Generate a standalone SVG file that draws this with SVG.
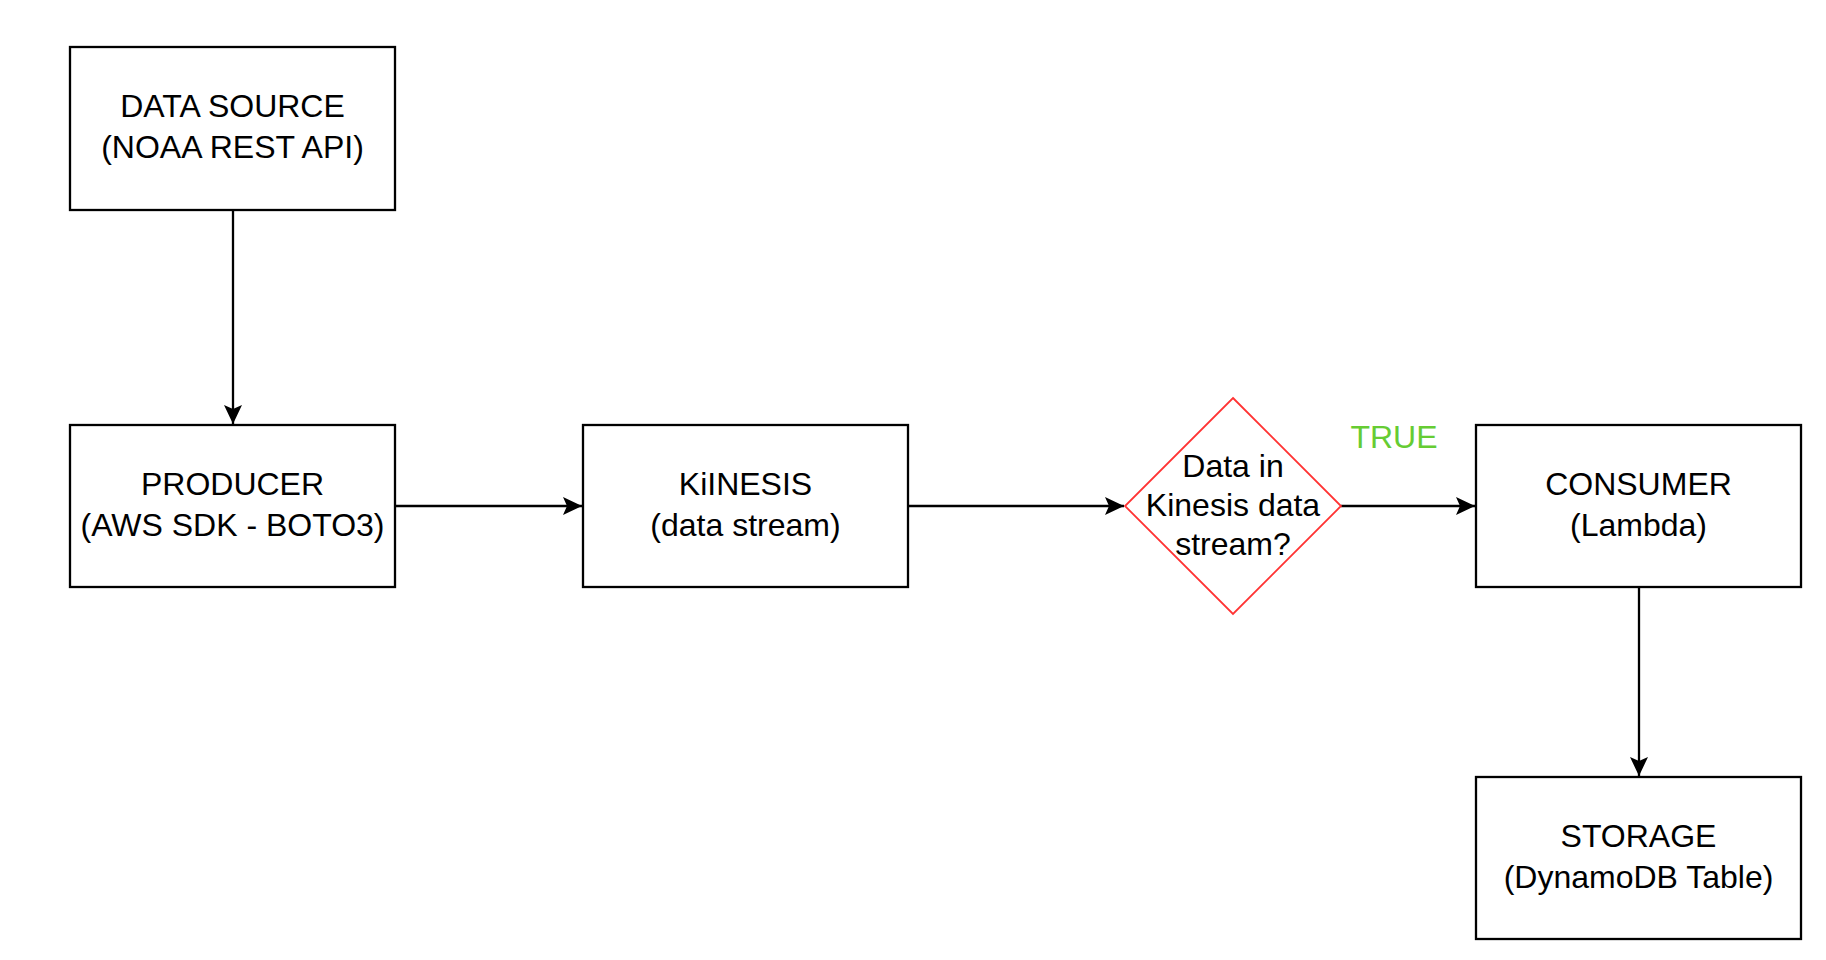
<svg xmlns="http://www.w3.org/2000/svg" width="1826" height="960" viewBox="0 0 1826 960">
<style>
.box{fill:#fff;stroke:#000;stroke-width:2.3}
.dia{fill:#fff;stroke:#ff3333;stroke-width:1.8}
.lbl{font-family:"Liberation Sans",Arial,sans-serif;font-size:32px;fill:#000;text-anchor:middle}
.true{font-family:"Liberation Sans",Arial,sans-serif;font-size:32px;fill:#66cc33;text-anchor:middle}
.edge{fill:none;stroke:#000;stroke-width:2.3}
</style>
<defs>
<marker id="arr" markerUnits="userSpaceOnUse" markerWidth="20" markerHeight="20" viewBox="0 0 20 20" refX="19" refY="9" orient="auto">
<path d="M0,0 L19,9 L0,18 L4,9 Z" fill="#000"/>
</marker>
</defs>
<rect width="1826" height="960" fill="#fff"/>
<g id="connectors">
<line class="edge" x1="233" y1="210" x2="233" y2="424" marker-end="url(#arr)"/>
<line class="edge" x1="395" y1="506" x2="582" y2="506" marker-end="url(#arr)"/>
<line class="edge" x1="908" y1="506" x2="1124" y2="506" marker-end="url(#arr)"/>
<line class="edge" x1="1341" y1="506" x2="1475" y2="506" marker-end="url(#arr)"/>
<line class="edge" x1="1639" y1="587" x2="1639" y2="776" marker-end="url(#arr)"/>
</g>
<g id="datasource">
<rect class="box" x="70" y="47" width="325" height="163"/>
<text class="lbl" x="232.5" y="117">DATA SOURCE</text>
<text class="lbl" x="232.5" y="158">(NOAA REST API)</text>
</g>
<g id="producer">
<rect class="box" x="70" y="425" width="325" height="162"/>
<text class="lbl" x="232.5" y="495">PRODUCER</text>
<text class="lbl" x="232.5" y="536">(AWS SDK - BOTO3)</text>
</g>
<g id="kinesis">
<rect class="box" x="583" y="425" width="325" height="162"/>
<text class="lbl" x="745.5" y="495">KiINESIS</text>
<text class="lbl" x="745.5" y="536">(data stream)</text>
</g>
<g id="decision">
<polygon class="dia" points="1233,398 1341,506 1233,614 1125,506"/>
<text class="lbl" x="1233" y="477">Data in</text>
<text class="lbl" x="1233" y="516">Kinesis data</text>
<text class="lbl" x="1233" y="555">stream?</text>
</g>
<g id="truelabel">
<text class="true" x="1394" y="448">TRUE</text>
</g>
<g id="consumer">
<rect class="box" x="1476" y="425" width="325" height="162"/>
<text class="lbl" x="1638.5" y="495">CONSUMER</text>
<text class="lbl" x="1638.5" y="536">(Lambda)</text>
</g>
<g id="storage">
<rect class="box" x="1476" y="777" width="325" height="162"/>
<text class="lbl" x="1638.5" y="847">STORAGE</text>
<text class="lbl" x="1638.5" y="888">(DynamoDB Table)</text>
</g>
</svg>
